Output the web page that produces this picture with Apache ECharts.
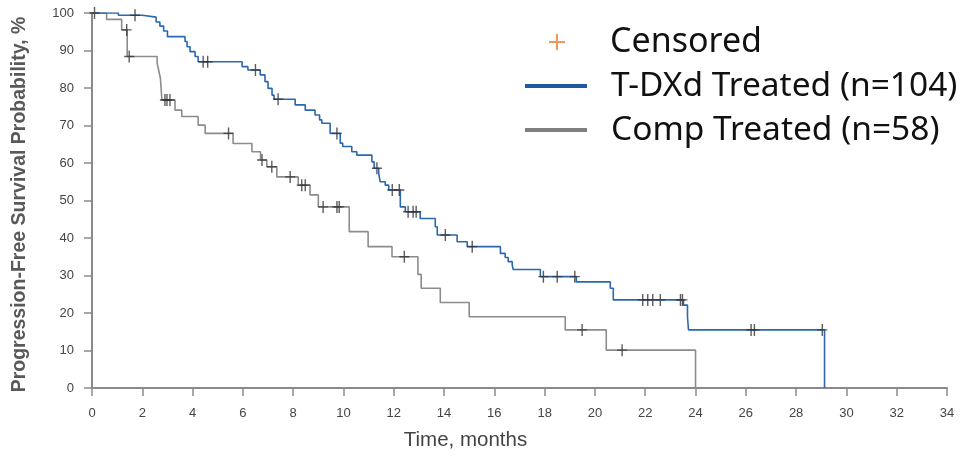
<!DOCTYPE html>
<html>
<head>
<meta charset="utf-8">
<script src="https://cdn.jsdelivr.net/npm/echarts@6/dist/echarts.min.js"></script>
<style>html,body{margin:0;padding:0;background:#fff}#c{width:960px;height:456px}</style>
</head>
<body>
<div id="c"></div>
<script>
// Kaplan-Meier step points [month, survival %] (value after the drop at that month)
const tdxdSteps = [[0,100],[1.05,99.4],[2.0,98.9],[2.55,97.6],[2.7,96.5],[2.85,95.2],[3.0,93.7],[3.7,92.4],[3.78,91.0],[3.9,89.7],[4.1,88.4],[4.22,87.0],[5.97,85.7],[6.2,84.8],[6.69,83.5],[6.88,81.7],[7.0,79.9],[7.16,78.1],[7.24,77.0],[8.08,75.5],[8.48,74.1],[8.87,72.8],[9.05,71.5],[9.14,70.6],[9.47,67.9],[9.87,65.3],[9.97,64.4],[10.33,63.0],[10.53,62.1],[11.13,60.3],[11.22,58.6],[11.4,57.2],[11.46,55.0],[11.66,54.1],[11.8,52.8],[12.26,48.3],[12.46,47.0],[13.05,45.2],[13.65,43.0],[13.73,40.8],[14.52,39.0],[14.92,37.7],[16.24,35.9],[16.43,34.8],[16.55,33.7],[16.71,32.8],[16.75,31.6],[17.83,29.7],[19.26,28.3],[20.61,26.6],[20.73,23.5],[23.52,22.1],[23.68,19.0],[23.72,15.5],[29.13,0]];
const tdxdCensored = [[0.1,100],[1.71,99.4],[4.42,87.0],[4.6,87.0],[6.5,84.8],[7.4,77.0],[9.74,67.9],[11.33,58.6],[11.94,52.8],[12.22,52.8],[12.57,47.0],[12.77,47.0],[12.89,47.0],[14.05,40.8],[15.12,37.7],[17.95,29.7],[18.5,29.7],[19.2,29.7],[21.9,23.5],[22.1,23.5],[22.3,23.5],[22.6,23.5],[23.4,23.5],[23.48,23.5],[26.21,15.5],[26.34,15.5],[29.04,15.5]];
const compSteps = [[0,100],[0.58,98.3],[1.18,95.5],[1.4,88.4],[2.59,86.6],[2.65,84.8],[2.72,82.6],[2.78,76.8],[3.3,74.1],[3.57,72.4],[4.22,70.1],[4.5,67.9],[5.61,65.2],[6.36,63.0],[6.7,60.8],[6.95,59.0],[7.35,56.3],[8.2,54.1],[8.67,51.5],[9.0,48.3],[10.23,41.7],[10.98,37.7],[11.93,35.0],[12.96,30.3],[13.09,26.6],[13.85,22.8],[15.0,19.0],[18.82,15.5],[20.45,10.1],[24.0,0]];
const compCensored = [[1.38,95.5],[1.48,88.4],[2.9,76.8],[2.98,76.8],[3.1,76.8],[5.43,67.9],[6.76,60.8],[7.15,59.0],[7.88,56.3],[8.34,54.1],[8.48,54.1],[9.19,48.3],[9.74,48.3],[9.83,48.3],[12.42,35.0],[19.49,15.5],[21.08,10.1]];
const seriesNames = ['T-DXd Treated (n=104)', 'Comp Treated (n=58)'];
const censorName = 'Censored';
const xTicks = {min: 0, max: 34, interval: 2};
const yTicks = {min: 0, max: 100, interval: 10};

const plus = 'path://M4.3,0 H5.7 V5.3 H10 V6.7 H5.7 V12 H4.3 V6.7 H0 V5.3 H4.3 Z';
const legendPlus = 'path://M7,0 H9 V7 H16 V9 H9 V16 H7 V9 H0 V7 H7 Z';
const blue = '#2a68b0', gray = '#8c8c8c', axisGray = '#8a8a8a';
const tickFont = 'Liberation Sans, Arial, sans-serif';

const chart = echarts.init(document.getElementById('c'), null, {renderer: 'canvas'});
chart.setOption({
  animation: false,
  grid: {left: 92, right: 13, top: 13, bottom: 68},
  legend: [{
    data: [{name: censorName, icon: legendPlus}],
    left: 549, top: 25, orient: 'vertical', padding: 0,
    itemWidth: 16, itemHeight: 16,
    textStyle: {fontSize: 34, lineHeight: 34, color: '#111', fontFamily: 'Noto Sans', padding: [0, 0, 0, 40]}
  }, {
    data: seriesNames,
    left: 525, top: 69, orient: 'vertical', padding: 0,
    itemWidth: 62, itemHeight: 4, itemGap: 10, icon: 'rect',
    textStyle: {fontSize: 33.5, lineHeight: 34, color: '#111', fontFamily: 'Noto Sans', padding: [0, 0, 0, 19]}
  }],
  xAxis: {
    type: 'value', min: xTicks.min, max: xTicks.max, interval: xTicks.interval,
    name: 'Time, months', nameLocation: 'middle', nameGap: 42,
    nameTextStyle: {fontSize: 20.5, color: '#444', fontFamily: tickFont, padding: [0, 108, 0, 0]},
    axisLine: {lineStyle: {color: axisGray, width: 2}},
    axisTick: {length: 8, lineStyle: {color: axisGray, width: 1.5}},
    axisLabel: {fontSize: 13, color: '#444', fontFamily: tickFont, margin: 19},
    splitLine: {show: false}
  },
  yAxis: {
    type: 'value', min: yTicks.min, max: yTicks.max, interval: yTicks.interval,
    name: 'Progression-Free Survival Probability, %', nameLocation: 'middle', nameGap: 62,
    nameTextStyle: {fontSize: 19.5, fontWeight: 'bold', color: '#595959', fontFamily: 'Liberation Sans', padding: [0, 8, 0, 0]},
    axisLine: {show: true, lineStyle: {color: axisGray, width: 2}},
    axisTick: {show: true, length: 8, lineStyle: {color: axisGray, width: 1.5}},
    axisLabel: {fontSize: 13, color: '#444', fontFamily: tickFont, margin: 18},
    splitLine: {show: false}
  },
  series: [
    {name: seriesNames[0], type: 'line', step: 'end', data: tdxdSteps, showSymbol: false,
     lineStyle: {color: blue, width: 1.6}, itemStyle: {color: '#1f5aa0'}, z: 3},
    {name: seriesNames[1], type: 'line', step: 'end', data: compSteps, showSymbol: false,
     lineStyle: {color: gray, width: 1.6}, itemStyle: {color: '#808080'}, z: 2},
    {name: 'T-DXd censored', type: 'scatter', data: tdxdCensored, symbol: plus, symbolSize: [10, 12],
     itemStyle: {color: '#333'}, z: 5, silent: true},
    {name: 'Comp censored', type: 'scatter', data: compCensored, symbol: plus, symbolSize: [10, 12],
     itemStyle: {color: '#333'}, z: 5, silent: true},
    {name: censorName, type: 'scatter', data: [], symbol: legendPlus, itemStyle: {color: '#ED7D31'}}
  ]
});
</script>
</body>
</html>
